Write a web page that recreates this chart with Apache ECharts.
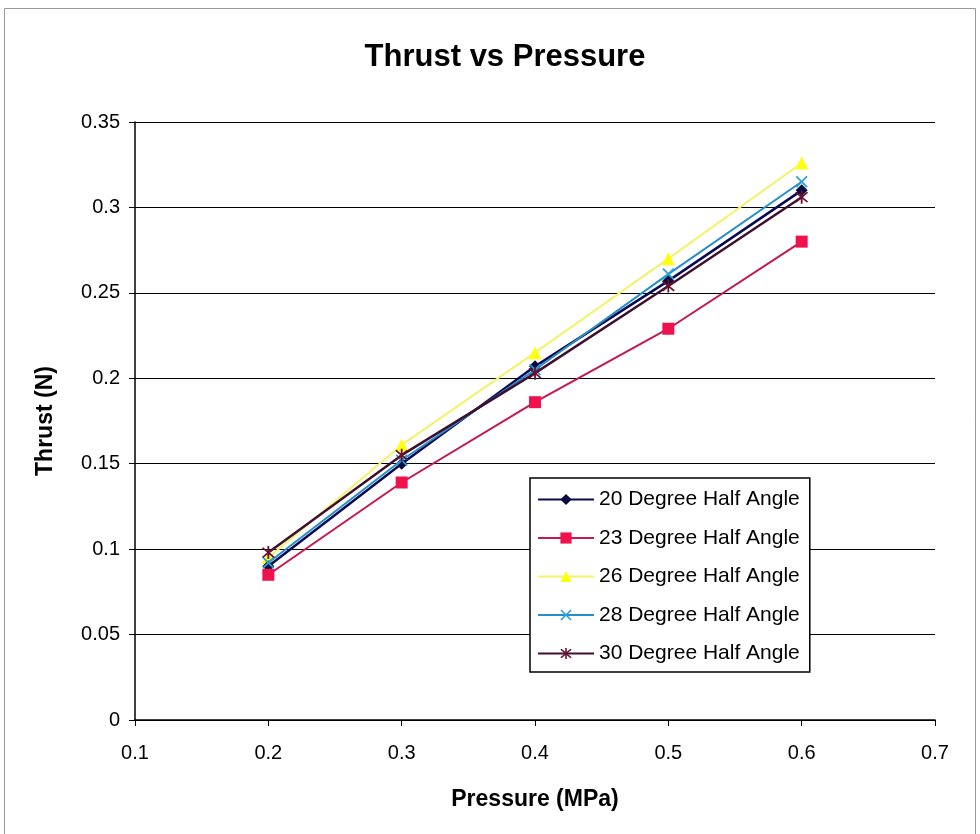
<!DOCTYPE html>
<html>
<head>
<meta charset="utf-8">
<script src="https://cdn.jsdelivr.net/npm/echarts@6/dist/echarts.min.js"></script>
<style>
html,body{margin:0;padding:0;background:#fff;}
#chart{width:980px;height:834px;}
</style>
</head>
<body>
<div id="chart"></div>
<script>
const pressure = [0.2, 0.3, 0.4, 0.5, 0.6];
const seriesNames = ['20 Degree Half Angle','23 Degree Half Angle','26 Degree Half Angle','28 Degree Half Angle','30 Degree Half Angle'];
const thrust20 = [0.090, 0.150, 0.207, 0.257, 0.310];
const thrust23 = [0.085, 0.139, 0.186, 0.229, 0.280];
const thrust26 = [0.095, 0.161, 0.215, 0.270, 0.326];
const thrust28 = [0.092, 0.152, 0.205, 0.261, 0.315];
const thrust30 = [0.098, 0.155, 0.203, 0.254, 0.306];
const yTicks = [0, 0.05, 0.1, 0.15, 0.2, 0.25, 0.3, 0.35];
const xTicks = [0.1, 0.2, 0.3, 0.4, 0.5, 0.6, 0.7];

const allValues = [thrust20, thrust23, thrust26, thrust28, thrust30];
const lineColors = ['#0a0a55', '#c4184e', '#f3f36a', '#2590c8', '#3e1030'];
const markerColors = ['#0a0a40', '#f0124c', '#ffff10', '#25a0d8', '#6a1030'];
const symbols = [
  'diamond',
  'rect',
  'triangle',
  'path://M0,1L1,0L5,4L9,0L10,1L6,5L10,9L9,10L5,6L1,10L0,9L4,5Z',
  'path://M0,1L1,0L5,4L9,0L10,1L6,5L10,9L9,10L5,6L1,10L0,9L4,5Z M4.3,-1L5.7,-1L5.7,11L4.3,11Z'
];
const symbolSizes = [12, 12, 13, 12, 13];
const FONT = 'Liberation Sans, Arial, sans-serif';

function pairs(vals){ return pressure.map((p,i)=>[p, vals[i]]); }

const series = seriesNames.map((name, i) => ({
  name: name,
  type: 'line',
  data: pairs(allValues[i]),
  symbol: symbols[i],
  symbolSize: symbolSizes[i],
  showAllSymbol: true,
  lineStyle: {color: lineColors[i], width: i === 0 || i === 4 ? 2.5 : 2},
  itemStyle: {color: markerColors[i], borderWidth: 0},
  z: i === 2 ? 1 : 2 + i,
  animation: false
}));

const chart = echarts.init(document.getElementById('chart'));
chart.setOption({
  backgroundColor: '#ffffff',
  animation: false,
  title: {
    text: 'Thrust vs Pressure',
    left: 500, top: 37, textAlign: 'center',
    textStyle: {fontFamily: FONT, fontWeight: 'bold', fontSize: 31, color: '#000'}
  },
  graphic: [{
    type: 'rect', shape: {x: 4.5, y: 8.5, width: 971, height: 830},
    style: {fill: 'none', stroke: '#999', lineWidth: 1}, silent: true
  }],
  grid: {left: 135, right: 45, top: 122, bottom: 114, containLabel: false},
  xAxis: {
    type: 'value', min: 0.1, max: 0.7, interval: 0.1,
    name: 'Pressure (MPa)', nameLocation: 'middle', nameGap: 68,
    nameTextStyle: {fontFamily: FONT, fontWeight: 'bold', fontSize: 23, color: '#000'},
    axisLine: {show: true, onZero: false, lineStyle: {color: '#000', width: 1.5}},
    axisTick: {show: true, inside: false, length: 6, lineStyle: {color: '#000'}},
    axisLabel: {fontFamily: FONT, fontSize: 20, color: '#000', margin: 23,
      formatter: v => String(Math.round(v*10)/10)},
    splitLine: {show: false}
  },
  yAxis: {
    type: 'value', min: 0, max: 0.35, interval: 0.05,
    name: 'Thrust (N)', nameLocation: 'middle', nameGap: 78, nameRotate: 90,
    nameTextStyle: {fontFamily: FONT, fontWeight: 'bold', fontSize: 23, color: '#000'},
    axisLine: {show: true, lineStyle: {color: '#000', width: 1.5}},
    axisTick: {show: true, inside: false, length: 6, lineStyle: {color: '#000'}},
    axisLabel: {fontFamily: FONT, fontSize: 20, color: '#000', margin: 15,
      formatter: v => String(Math.round(v*100)/100)},
    splitLine: {show: true, lineStyle: {color: '#000', width: 1}}
  },
  legend: {
    data: seriesNames,
    orient: 'vertical',
    left: 530, top: 478,
    width: 287,
    padding: [11, 10, 8, 7],
    backgroundColor: '#ffffff',
    borderColor: '#000', borderWidth: 1.5,
    itemWidth: 56, itemHeight: 14,
    itemGap: 17.5,
    textStyle: {fontFamily: FONT, fontSize: 21, color: '#000', padding: [0,0,0,0]}
  },
  series: series
});
</script>
</body>
</html>
